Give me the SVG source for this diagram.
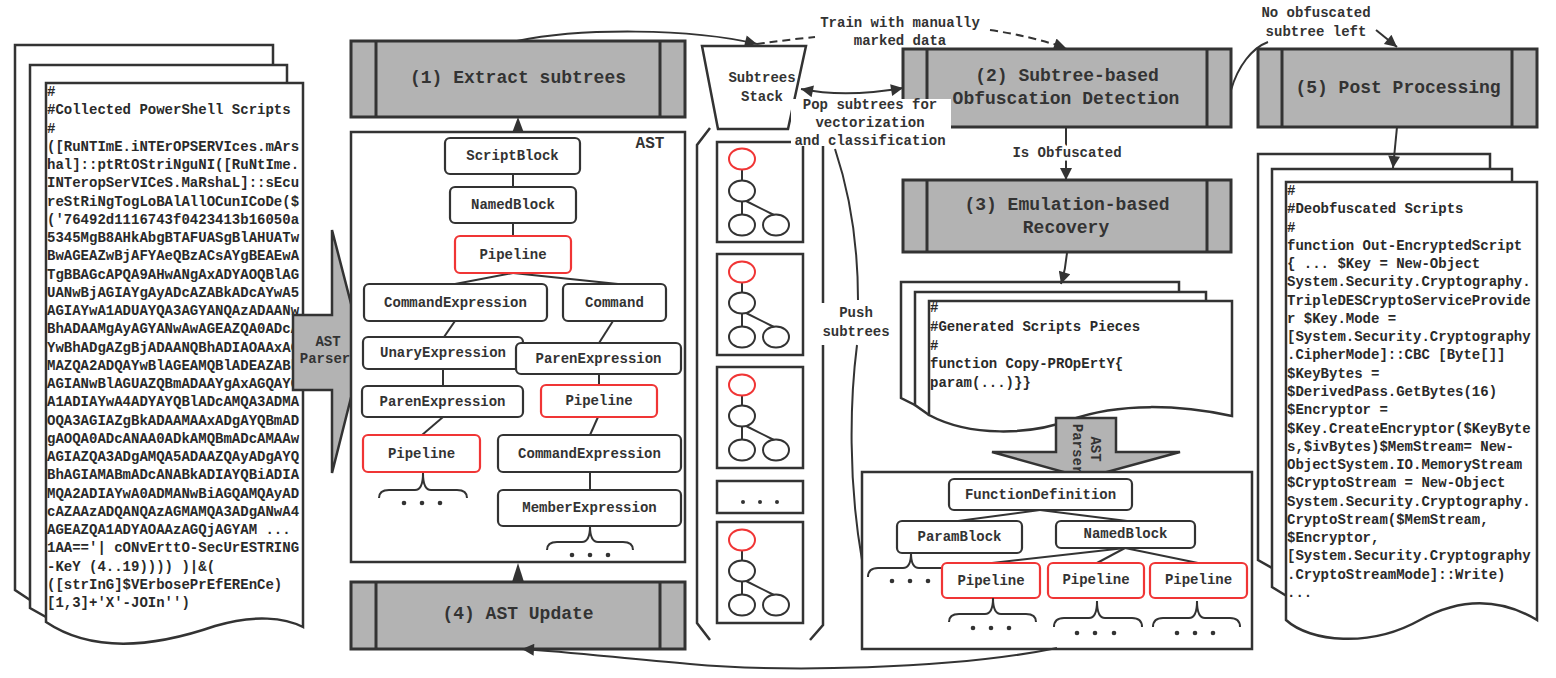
<svg xmlns="http://www.w3.org/2000/svg" width="1556" height="678" viewBox="0 0 1556 678">
<style>
.box{fill:#b3b3b3;stroke:#333;stroke-width:3}
.sep{stroke:#333;stroke-width:3}
.node{fill:#fff;stroke:#333;stroke-width:2.2}
.red{fill:#fff;stroke:#f03535;stroke-width:2.2}
.ln{fill:none;stroke:#333;stroke-width:2}
.frame{fill:#fff;stroke:#333;stroke-width:2.5}
.doc{fill:#fff;stroke:#333;stroke-width:2.5}
.t{font-family:"Liberation Mono","Courier New",monospace;font-weight:bold;font-size:14px;fill:#333;text-anchor:middle;dominant-baseline:central}
.title{font-size:18px}
.code{font-family:"Liberation Mono","Courier New",monospace;font-weight:bold;font-size:14px;fill:#2a2a2a;dominant-baseline:central}
.halo{stroke:#fff;stroke-width:7;paint-order:stroke;stroke-linejoin:round}
.dot{fill:#333}
.el{fill:#fff;stroke:#333;stroke-width:2}
.elr{fill:#fff;stroke:#f03535;stroke-width:2}
</style>
<defs>
<marker id="ah" viewBox="0 0 10 10" refX="10" refY="5" markerWidth="16" markerHeight="12" markerUnits="userSpaceOnUse" orient="auto-start-reverse">
<path d="M0,0 L10,5 L0,10 z" fill="#333"/>
</marker>
<clipPath id="cl"><rect x="46" y="83" width="257" height="560"/></clipPath>
</defs>

<!-- Left documents: Collected PowerShell Scripts -->
<g id="collected-scripts">
<path class="doc" d="M15,45 H273 V560 L30,600 L15,590 Z"/>
<path class="doc" d="M30,65 H287 V580 L46,617 L30,608 Z"/>
<path class="doc" d="M46,83 H303 V627 C285,618 255,614 215,626 C160,645 95,655 46,622 Z"/>
<text class="code" clip-path="url(#cl)">
<tspan x="47" y="92">#</tspan>
<tspan x="47" y="110.25">#Collected PowerShell Scripts</tspan>
<tspan x="47" y="128.5">#</tspan>
<tspan x="47" y="146.75">([RuNTImE.iNTErOPSERVIces.mArs</tspan>
<tspan x="47" y="165">hal]::ptRtOStriNguNI([RuNtIme.</tspan>
<tspan x="47" y="183.25">INTeropSerVICeS.MaRshaL]::sEcu</tspan>
<tspan x="47" y="201.5">reStRiNgTogLoBAlAllOCunICoDe($</tspan>
<tspan x="47" y="219.75">('76492d1116743f0423413b16050a</tspan>
<tspan x="47" y="238">5345MgB8AHkAbgBTAFUASgBlAHUATw</tspan>
<tspan x="47" y="256.25">BwAGEAZwBjAFYAeQBzACsAYgBEAEwA</tspan>
<tspan x="47" y="274.5">TgBBAGcAPQA9AHwANgAxADYAOQBlAG</tspan>
<tspan x="47" y="292.75">UANwBjAGIAYgAyADcAZABkADcAYwA5</tspan>
<tspan x="47" y="311">AGIAYwA1ADUAYQA3AGYANQAzADAANw</tspan>
<tspan x="47" y="329.25">BhADAAMgAyAGYANwAwAGEAZQA0ADcA</tspan>
<tspan x="47" y="347.5">YwBhADgAZgBjADAANQBhADIAOAAxAG</tspan>
<tspan x="47" y="365.75">MAZQA2ADQAYwBlAGEAMQBlADEAZABk</tspan>
<tspan x="47" y="384">AGIANwBlAGUAZQBmADAAYgAxAGQAYQ</tspan>
<tspan x="47" y="402.25">A1ADIAYwA4ADYAYQBlADcAMQA3ADMA</tspan>
<tspan x="47" y="420.5">OQA3AGIAZgBkADAAMAAxADgAYQBmAD</tspan>
<tspan x="47" y="438.75">gAOQA0ADcANAA0ADkAMQBmADcAMAAw</tspan>
<tspan x="47" y="457">AGIAZQA3ADgAMQA5ADAAZQAyADgAYQ</tspan>
<tspan x="47" y="475.25">BhAGIAMABmADcANABkADIAYQBiADIA</tspan>
<tspan x="47" y="493.5">MQA2ADIAYwA0ADMANwBiAGQAMQAyAD</tspan>
<tspan x="47" y="511.75">cAZAAzADQANQAzAGMAMQA3ADgANwA4</tspan>
<tspan x="47" y="530">AGEAZQA1ADYAOAAzAGQjAGYAM ...</tspan>
<tspan x="47" y="548.25">1AA=='| cONvErttO-SecUrESTRING</tspan>
<tspan x="47" y="566.5">-KeY (4..19)))) )|&amp;(</tspan>
<tspan x="47" y="584.75">([strInG]$VErbosePrEfEREnCe)</tspan>
<tspan x="47" y="603">[1,3]+'X'-JOIn'')</tspan>
</text>
</g>

<!-- AST Parser arrow (left) -->
<g id="ast-parser-1">
<path d="M293,315 H332 V230 L363,350 L332,473 V390 H293 Z" fill="#b3b3b3" stroke="#333" stroke-width="2.5" stroke-linejoin="miter"/>
<text class="t" x="328" y="342">AST</text>
<text class="t" x="325" y="359">Parser</text>
</g>

<!-- (1) Extract subtrees -->
<g id="extract-subtrees">
<rect class="box" x="351" y="41" width="334" height="76"/>
<line class="sep" x1="376" y1="41" x2="376" y2="117"/>
<line class="sep" x1="660" y1="41" x2="660" y2="117"/>
<text class="t title" x="518" y="78">(1) Extract subtrees</text>
</g>

<!-- AST container -->
<g id="ast">
<rect class="frame" x="351" y="132" width="334" height="430"/>
<text class="t" x="650" y="144" style="font-size:16px">AST</text>
<g class="ln">
<line x1="513" y1="174" x2="513" y2="187"/>
<line x1="513" y1="223" x2="513" y2="236"/>
<line x1="513" y1="273" x2="455" y2="284"/>
<line x1="513" y1="273" x2="618" y2="284"/>
<line x1="455" y1="321" x2="444" y2="337"/>
<line x1="613" y1="321" x2="599" y2="343"/>
<line x1="443" y1="369" x2="443" y2="386"/>
<line x1="443" y1="417" x2="422" y2="435"/>
<line x1="599" y1="374" x2="599" y2="385"/>
<line x1="598" y1="417" x2="590" y2="435"/>
<line x1="590" y1="472" x2="590" y2="490"/>
</g>
<g id="n-scriptblock"><rect class="node" x="445" y="138" width="135" height="36" rx="5"/><text class="t" x="512.5" y="156">ScriptBlock</text></g>
<g id="n-namedblock"><rect class="node" x="450" y="187" width="126" height="36" rx="5"/><text class="t" x="513" y="205">NamedBlock</text></g>
<g id="n-pipeline-a"><rect class="red" x="455" y="236" width="116" height="37" rx="5"/><text class="t" x="513" y="254.5">Pipeline</text></g>
<g id="n-cmdexpr-a"><rect class="node" x="364" y="284" width="183" height="37" rx="5"/><text class="t" x="455.5" y="302.5">CommandExpression</text></g>
<g id="n-command"><rect class="node" x="563" y="284" width="103" height="37" rx="5"/><text class="t" x="614.5" y="302.5">Command</text></g>
<g id="n-unary"><rect class="node" x="363" y="337" width="160" height="32" rx="5"/><text class="t" x="443" y="353">UnaryExpression</text></g>
<g id="n-paren-b"><rect class="node" x="516" y="343" width="165" height="31" rx="5"/><text class="t" x="598.5" y="358.5">ParenExpression</text></g>
<g id="n-paren-a"><rect class="node" x="362" y="386" width="161" height="31" rx="5"/><text class="t" x="442.5" y="401.5">ParenExpression</text></g>
<g id="n-pipeline-b"><rect class="red" x="363" y="435" width="117" height="37" rx="5"/><text class="t" x="421.5" y="453.5">Pipeline</text></g>
<g id="n-pipeline-c"><rect class="red" x="541" y="385" width="116" height="32" rx="5"/><text class="t" x="599" y="401">Pipeline</text></g>
<g id="n-cmdexpr-b"><rect class="node" x="498" y="435" width="183" height="37" rx="5"/><text class="t" x="589.5" y="453.5">CommandExpression</text></g>
<g id="n-member"><rect class="node" x="498" y="490" width="183" height="36" rx="5"/><text class="t" x="589.5" y="508">MemberExpression</text></g>
<path class="ln" d="M379,498 Q379,490 389,490 H415 Q423,490 423,473 Q423,490 431,490 H457 Q467,490 467,498"/>
<circle class="dot" cx="404" cy="503" r="2.3"/><circle class="dot" cx="422" cy="503" r="2.3"/><circle class="dot" cx="440" cy="503" r="2.3"/>
<path class="ln" d="M547,550 Q547,542 557,542 H582 Q590,542 590,526 Q590,542 598,542 H623 Q633,542 633,550"/>
<circle class="dot" cx="572" cy="555" r="2.3"/><circle class="dot" cx="590" cy="555" r="2.3"/><circle class="dot" cx="608" cy="555" r="2.3"/>
</g>

<!-- (4) AST Update -->
<g id="ast-update">
<rect class="box" x="351" y="582" width="334" height="67"/>
<line class="sep" x1="376" y1="582" x2="376" y2="649"/>
<line class="sep" x1="660" y1="582" x2="660" y2="649"/>
<text class="t title" x="518" y="614">(4) AST Update</text>
</g>

<!-- Subtrees Stack -->
<g id="subtrees-stack">
<path d="M702,46 H806 L788,129 H718 Z" fill="#fff" stroke="#333" stroke-width="2.5"/>
<text class="t" x="762" y="78">Subtrees</text>
<text class="t" x="762" y="97">Stack</text>
</g>

<!-- Stack column -->
<g id="stack-column">
<path class="ln" d="M710,128 L697,145 V623 L710,640" style="stroke-width:2.5"/>
<path class="ln" d="M823,146 V303 M823,345 V625 L810,640" style="stroke-width:2.5"/>
<g id="st1">
<rect class="frame" x="717" y="142" width="86" height="100"/>
<line class="ln" x1="742" y1="169" x2="742" y2="181"/><line class="ln" x1="742" y1="201" x2="742" y2="215"/><line class="ln" x1="746" y1="201" x2="774" y2="215"/>
<ellipse class="elr" cx="742" cy="159" rx="13" ry="10.5"/><ellipse class="el" cx="742" cy="191" rx="13" ry="10.5"/>
<ellipse class="el" cx="742" cy="225" rx="13" ry="10.5"/><ellipse class="el" cx="776" cy="225" rx="13" ry="10.5"/>
</g>
<g id="st2">
<rect class="frame" x="717" y="254" width="86" height="101"/>
<line class="ln" x1="742" y1="282" x2="742" y2="293"/><line class="ln" x1="742" y1="313" x2="742" y2="327"/><line class="ln" x1="746" y1="313" x2="774" y2="327"/>
<ellipse class="elr" cx="742" cy="272" rx="13" ry="10.5"/><ellipse class="el" cx="742" cy="303" rx="13" ry="10.5"/>
<ellipse class="el" cx="742" cy="337" rx="13" ry="10.5"/><ellipse class="el" cx="776" cy="337" rx="13" ry="10.5"/>
</g>
<g id="st3">
<rect class="frame" x="717" y="367" width="86" height="101"/>
<line class="ln" x1="742" y1="395" x2="742" y2="406"/><line class="ln" x1="742" y1="426" x2="742" y2="440"/><line class="ln" x1="746" y1="426" x2="774" y2="440"/>
<ellipse class="elr" cx="742" cy="385" rx="13" ry="10.5"/><ellipse class="el" cx="742" cy="416" rx="13" ry="10.5"/>
<ellipse class="el" cx="742" cy="450" rx="13" ry="10.5"/><ellipse class="el" cx="776" cy="450" rx="13" ry="10.5"/>
</g>
<g id="st-dots">
<rect class="frame" x="717" y="481" width="86" height="32"/>
<circle class="dot" cx="743" cy="502" r="2"/><circle class="dot" cx="760" cy="502" r="2"/><circle class="dot" cx="777" cy="502" r="2"/>
</g>
<g id="st4">
<rect class="frame" x="717" y="522" width="86" height="101"/>
<line class="ln" x1="742" y1="550" x2="742" y2="561"/><line class="ln" x1="742" y1="581" x2="742" y2="595"/><line class="ln" x1="746" y1="581" x2="774" y2="595"/>
<ellipse class="elr" cx="742" cy="540" rx="13" ry="10.5"/><ellipse class="el" cx="742" cy="571" rx="13" ry="10.5"/>
<ellipse class="el" cx="742" cy="605" rx="13" ry="10.5"/><ellipse class="el" cx="776" cy="605" rx="13" ry="10.5"/>
</g>
</g>

<!-- (2) Subtree-based Obfuscation Detection -->
<g id="detection">
<rect class="box" x="903" y="49" width="328" height="78"/>
<line class="sep" x1="927" y1="49" x2="927" y2="127"/>
<line class="sep" x1="1207" y1="49" x2="1207" y2="127"/>
<text class="t title" x="1067" y="76">(2) Subtree-based</text>
<text class="t title" x="1066" y="99">Obfuscation Detection</text>
</g>

<!-- (3) Emulation-based Recovery -->
<g id="recovery">
<rect class="box" x="903" y="180" width="328" height="72"/>
<line class="sep" x1="927" y1="180" x2="927" y2="252"/>
<line class="sep" x1="1207" y1="180" x2="1207" y2="252"/>
<text class="t title" x="1067" y="205">(3) Emulation-based</text>
<text class="t title" x="1066" y="228">Recovery</text>
</g>

<!-- Generated script pieces -->
<g id="generated-pieces">
<path class="doc" d="M901,282 H1179 V380 L915,405 L901,398 Z"/>
<path class="doc" d="M915,292 H1206 V390 L929,415 L915,405 Z"/>
<path class="doc" d="M929,301 H1232 V416 C1180,405 1120,402 1070,420 C1030,435 970,437 929,415 Z"/>
<text class="code">
<tspan x="930" y="308">#</tspan>
<tspan x="930" y="327">#Generated Scripts Pieces</tspan>
<tspan x="930" y="345.5">#</tspan>
<tspan x="930" y="364">function Copy-PROpErtY{</tspan>
<tspan x="930" y="382.5">param(...)}}</tspan>
</text>
</g>

<!-- AST Parser arrow (down) -->
<g id="ast-parser-2">
<path d="M1056,418 H1116 V452 H1180 L1085,478 L992,452 H1056 Z" fill="#b3b3b3" stroke="#333" stroke-width="2.5"/>
<text class="t" x="1095" y="449" transform="rotate(90 1095 449)">AST</text>
<text class="t" x="1077" y="449" transform="rotate(90 1077 449)">Parser</text>
</g>

<!-- Lower AST -->
<g id="ast-lower">
<rect class="frame" x="862" y="472" width="390" height="177"/>
<g class="ln">
<line x1="1040" y1="510" x2="958" y2="521"/>
<line x1="1040" y1="510" x2="1127" y2="521"/>
<line x1="1125" y1="548" x2="992" y2="563"/>
<line x1="1125" y1="548" x2="1097" y2="563"/>
<line x1="1125" y1="548" x2="1198" y2="563"/>
</g>
<g id="n-funcdef"><rect class="node" x="949" y="479" width="183" height="31" rx="5"/><text class="t" x="1040.5" y="494.5">FunctionDefinition</text></g>
<g id="n-paramblock"><rect class="node" x="897" y="521" width="125" height="32" rx="5"/><text class="t" x="959.5" y="537">ParamBlock</text></g>
<g id="n-namedblock-2"><rect class="node" x="1056" y="521" width="139" height="27" rx="5"/><text class="t" x="1125.5" y="534">NamedBlock</text></g>
<path class="ln" d="M868,577 Q868,568 878,568 H903 Q911,568 911,553 Q911,568 919,568 H945 Q955,568 955,577"/>
<circle class="dot" cx="892" cy="581" r="2.3"/><circle class="dot" cx="910" cy="581" r="2.3"/><circle class="dot" cx="928" cy="581" r="2.3"/>
<g id="n-pipe-1"><rect class="red" x="942" y="563" width="98" height="35" rx="5"/><text class="t" x="991" y="580.5">Pipeline</text></g>
<g id="n-pipe-2"><rect class="red" x="1048" y="563" width="96" height="35" rx="5"/><text class="t" x="1096" y="579.5">Pipeline</text></g>
<g id="n-pipe-3"><rect class="red" x="1150" y="563" width="97" height="35" rx="5"/><text class="t" x="1198.5" y="579.5">Pipeline</text></g>
<path class="ln" d="M949,622 Q949,614 959,614 H985 Q993,614 993,598 Q993,614 1001,614 H1026 Q1036,614 1036,622"/>
<circle class="dot" cx="973" cy="628" r="2.3"/><circle class="dot" cx="991" cy="628" r="2.3"/><circle class="dot" cx="1009" cy="628" r="2.3"/>
<path class="ln" d="M1054,627 Q1054,618 1064,618 H1089 Q1097,618 1097,601 Q1097,618 1105,618 H1132 Q1142,618 1142,627"/>
<circle class="dot" cx="1077" cy="633" r="2.3"/><circle class="dot" cx="1095" cy="633" r="2.3"/><circle class="dot" cx="1114" cy="633" r="2.3"/>
<path class="ln" d="M1153,627 Q1153,618 1163,618 H1189 Q1197,618 1197,601 Q1197,618 1205,618 H1230 Q1240,618 1240,627"/>
<circle class="dot" cx="1177" cy="633" r="2.3"/><circle class="dot" cx="1195" cy="633" r="2.3"/><circle class="dot" cx="1213" cy="633" r="2.3"/>
</g>

<!-- (5) Post Processing -->
<g id="post-processing">
<rect class="box" x="1258" y="49" width="279" height="78"/>
<line class="sep" x1="1282" y1="49" x2="1282" y2="127"/>
<line class="sep" x1="1512" y1="49" x2="1512" y2="127"/>
<text class="t title" x="1398" y="88">(5) Post Processing</text>
</g>

<!-- Deobfuscated scripts -->
<g id="deobfuscated-scripts">
<path class="doc" d="M1258,154 H1490 V540 L1272,568 L1258,560 Z"/>
<path class="doc" d="M1272,169 H1512 V560 L1285,595 L1272,587 Z"/>
<path class="doc" d="M1286,182 H1537 V620 C1500,598 1460,598 1420,620 C1370,648 1310,642 1286,620 Z"/>
<text class="code">
<tspan x="1287" y="191">#</tspan>
<tspan x="1287" y="209.3">#Deobfuscated Scripts</tspan>
<tspan x="1287" y="227.5">#</tspan>
<tspan x="1287" y="245.8">function Out-EncryptedScript</tspan>
<tspan x="1287" y="264.1">{ ... $Key = New-Object</tspan>
<tspan x="1287" y="282.4">System.Security.Cryptography.</tspan>
<tspan x="1287" y="300.6">TripleDESCryptoServiceProvide</tspan>
<tspan x="1287" y="318.9">r $Key.Mode =</tspan>
<tspan x="1287" y="337.2">[System.Security.Cryptography</tspan>
<tspan x="1287" y="355.4">.CipherMode]::CBC [Byte[]]</tspan>
<tspan x="1287" y="373.7">$KeyBytes =</tspan>
<tspan x="1287" y="392">$DerivedPass.GetBytes(16)</tspan>
<tspan x="1287" y="410.2">$Encryptor =</tspan>
<tspan x="1287" y="428.5">$Key.CreateEncryptor($KeyByte</tspan>
<tspan x="1287" y="446.8">s,$ivBytes)$MemStream= New-</tspan>
<tspan x="1287" y="465">ObjectSystem.IO.MemoryStream</tspan>
<tspan x="1287" y="483.3">$CryptoStream = New-Object</tspan>
<tspan x="1287" y="501.6">System.Security.Cryptography.</tspan>
<tspan x="1287" y="519.9">CryptoStream($MemStream,</tspan>
<tspan x="1287" y="538.1">$Encryptor,</tspan>
<tspan x="1287" y="556.4">[System.Security.Cryptography</tspan>
<tspan x="1287" y="574.7">.CryptoStreamMode]::Write)</tspan>
<tspan x="1287" y="593">...</tspan>
</text>
</g>

<!-- Connectors -->
<g id="connectors" fill="none" stroke="#333" stroke-width="2">
<polygon points="512,133 524,133 518,117" fill="#333" stroke="none"/>
<polygon points="512,582 524,582 518,563" fill="#333" stroke="none"/>
<path d="M517,41 C580,28 690,28 757,44" marker-end="url(#ah)"/>
<path d="M757,44 Q785,40 815,37" stroke-dasharray="8,5"/>
<path d="M990,30 Q1030,36 1066,48" stroke-dasharray="8,5" marker-end="url(#ah)"/>
<path d="M801,89 Q845,98 903,88" marker-start="url(#ah)" marker-end="url(#ah)"/>
<path d="M1066,127 V180" marker-end="url(#ah)"/>
<path d="M1067,252 Q1066,268 1061,284" marker-end="url(#ah)"/>
<path d="M1231,90 C1238,66 1252,48 1268,42"/>
<path d="M1376,30 L1397,47" marker-end="url(#ah)"/>
<path d="M1397,127 L1393,168" marker-end="url(#ah)"/>
<path d="M835,149 C852,200 858,250 858,300"/>
<path d="M857,345 C850,400 848,480 862,560"/>
<path d="M1057,648 C950,670 780,672 690,664 C620,658 570,652 522,649" marker-end="url(#ah)"/>
</g>

<!-- Labels -->
<g id="labels">
<rect x="791" y="99" width="160" height="47" fill="#fff"/>
<text class="t" x="870" y="105">Pop subtrees for</text>
<text class="t" x="870" y="123">vectorization</text>
<text class="t" x="870" y="141">and classification</text>
<text class="t" x="900" y="23">Train with manually</text>
<text class="t" x="900" y="41">marked data</text>
<text class="t halo" x="1067" y="153">Is Obfuscated</text>
<text class="t" x="1316" y="13">No obfuscated</text>
<text class="t" x="1316" y="32">subtree left</text>
<text class="t" x="856" y="313">Push</text>
<text class="t" x="856" y="332">subtrees</text>
</g>
</svg>
